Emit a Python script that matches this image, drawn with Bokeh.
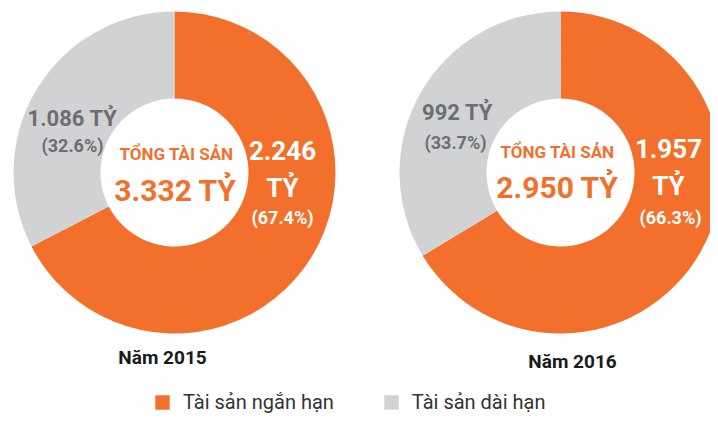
import numpy as np
from bokeh.plotting import figure
from bokeh.models import ColumnDataSource, Range1d, Legend, LegendItem
from bokeh.core.properties import value
from bokeh.embed import file_html
from bokeh.resources import INLINE

# ---- data ----
years = ["Năm 2015", "Năm 2016"]
short_term = [2246, 1957]      # Tài sản ngắn hạn (tỷ)
long_term = [1086, 992]        # Tài sản dài hạn (tỷ)
short_pct = ["(67.4%)", "(66.3%)"]
long_pct = ["(32.6%)", "(33.7%)"]
total_labels = ["3.332 TỶ", "2.950 TỶ"]
short_labels = ["2.246", "1.957"]
long_labels = ["1.086 TỶ", "992 TỶ"]
series_names = ["Tài sản ngắn hạn", "Tài sản dài hạn"]

ORANGE = "#F26F2C"
GRAY = "#D1D2D4"
TEXT_GRAY = "#6D6E71"

W, H = 710, 414
def sx(x):  # picture x -> data x
    return x
def sy(y):  # picture y -> data y
    return H - y

cx = [sx(174), sx(560)]
cy = [sy(172), sy(172)]
R_OUT, R_IN = 161, 74

frac = np.array(short_term) / (np.array(short_term) + np.array(long_term))
top = np.pi / 2
short_src = ColumnDataSource(dict(x=cx, y=cy, start=list(top - frac * 2 * np.pi), end=[top, top]))
long_src = ColumnDataSource(dict(x=cx, y=cy, start=[top, top], end=list(top + (1 - frac) * 2 * np.pi)))

p = figure(width=W, height=H, output_backend="svg", toolbar_location=None,
           x_range=Range1d(0, W), y_range=Range1d(0, H), min_border=0)
p.axis.visible = False
p.grid.visible = False
p.outline_line_color = None

r_short = p.annular_wedge(x="x", y="y", inner_radius=R_IN, outer_radius=R_OUT,
                          start_angle="start", end_angle="end", source=short_src,
                          fill_color=ORANGE, line_color=None)
r_long = p.annular_wedge(x="x", y="y", inner_radius=R_IN, outer_radius=R_OUT,
                         start_angle="start", end_angle="end", source=long_src,
                         fill_color=GRAY, line_color=None)

FONT = value("Roboto")

def label(xs, ys, texts, color, size):
    src = ColumnDataSource(dict(x=[sx(v) for v in xs], y=[sy(v) for v in ys], t=texts))
    p.text(x="x", y="y", text="t", source=src, text_color=color, text_font=FONT,
           text_font_style="bold", text_font_size=size, text_align="center",
           text_baseline="middle")

# gray labels
label([72, 457], [118, 112], long_labels, TEXT_GRAY, "22px")
label([72, 455], [145, 142], long_pct, TEXT_GRAY, "18px")
# center labels
label([176, 557], [153, 151], ["TỔNG TÀI SẢN"] * 2, ORANGE, "17px")
label([175, 557], [190, 187], total_labels, ORANGE, "30px")
# orange slice labels
label([282, 668], [150, 148], short_labels, "white", "26px")
label([282, 668], [187, 185], ["TỶ", "TỶ"], "white", "26px")
label([282, 670], [217, 217], short_pct, "white", "18px")

# year titles
tsrc = ColumnDataSource(dict(x=[sx(162), sx(572)], y=[sy(357), sy(361)], t=years))
p.text(x="x", y="y", text="t", source=tsrc, text_color="#1a1a1a", text_font=FONT,
       text_font_style="bold", text_font_size="19px", text_align="center", text_baseline="middle")

legend = Legend(items=[LegendItem(label=series_names[0], renderers=[r_short]),
                       LegendItem(label=series_names[1], renderers=[r_long])],
                orientation="horizontal", location=(153, 0),
                glyph_width=18, glyph_height=18, label_height=18, label_standoff=12,
                spacing=48, padding=0, margin=0, border_line_color=None,
                background_fill_alpha=0, label_text_font="Roboto",
                label_text_font_size="20px", label_text_color="#333333")
p.add_layout(legend)

open("out.html", "w").write(file_html(p, INLINE))
